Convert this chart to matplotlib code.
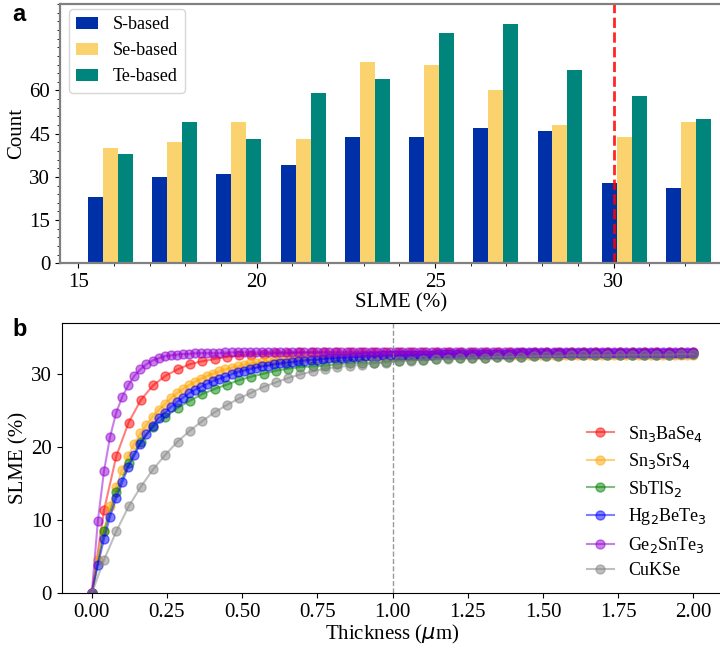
import numpy as np
import matplotlib
matplotlib.use('Agg')
import matplotlib.pyplot as plt
from matplotlib.ticker import MultipleLocator

plt.rcParams['font.family'] = ['Liberation Serif', 'DejaVu Serif']
plt.rcParams['font.size'] = 15
plt.rcParams['mathtext.fontset'] = 'dejavusans'

# --- panel a : histogramme SLME ---
bin_edges = [15.0, 16.8, 18.6, 20.4, 22.2, 24.0, 25.8, 27.6, 29.4, 31.2, 33.0]
s_counts = [23, 30, 31, 34, 44, 44, 47, 46, 28, 26]
se_counts = [40, 42, 49, 43, 70, 69, 60, 48, 44, 49]
te_counts = [38, 49, 43, 59, 64, 80, 83, 67, 58, 50]
group_labels = ['S-based', 'Se-based', 'Te-based']
group_colors = ['#0030A8', '#FAD26E', '#00857C']

# --- panel b : SLME vs epaisseur ---
t_fine = np.linspace(0, 2, 100)
t_coarse = np.linspace(0, 2, 50)

sn3base4 = [0.0, 11.4, 18.8, 23.4, 26.5, 28.5, 29.8, 30.7, 31.4, 31.8,
            32.1, 32.4, 32.6, 32.7, 32.8, 32.9, 32.9, 33.0, 33.0, 33.0,
            33.0, 33.0, 33.0, 33.0, 33.0, 33.0, 33.0, 33.0, 33.0, 33.0,
            33.0, 33.0, 33.0, 33.0, 33.0, 33.0, 33.0, 33.0, 33.0, 33.0,
            33.0, 33.0, 33.0, 33.0, 33.0, 33.0, 33.0, 33.0, 33.0, 33.0]

sn3srs4 = [0.0, 4.5, 8.6, 12.0, 14.6, 16.9, 18.8, 20.5, 21.9, 23.1,
           24.2, 25.1, 25.9, 26.7, 27.4, 28.0, 28.5, 29.0, 29.4, 29.8,
           30.1, 30.4, 30.7, 30.9, 31.1, 31.3, 31.5, 31.6, 31.7, 31.8,
           31.9, 32.0, 32.0, 32.1, 32.2, 32.2, 32.3, 32.3, 32.4, 32.4,
           32.4, 32.5, 32.5, 32.5, 32.5, 32.5, 32.5, 32.5, 32.5, 32.5,
           32.5, 32.5, 32.5, 32.5, 32.5, 32.5, 32.6, 32.6, 32.6, 32.6,
           32.6, 32.6, 32.6, 32.6, 32.6, 32.6, 32.6, 32.6, 32.6, 32.6,
           32.6, 32.6, 32.6, 32.7, 32.7, 32.7, 32.7, 32.7, 32.7, 32.7,
           32.7, 32.7, 32.7, 32.7, 32.7, 32.7, 32.7, 32.7, 32.7, 32.7,
           32.7, 32.7, 32.7, 32.7, 32.7, 32.7, 32.7, 32.7, 32.7, 32.7]

sbtls2 = [0.0, 8.5, 13.9, 17.8, 20.8, 22.8, 24.2, 25.4, 26.4, 27.3,
          28.0, 28.6, 29.2, 29.7, 30.1, 30.5, 30.8, 31.0, 31.1, 31.2,
          31.4, 31.5, 31.6, 31.6, 31.7, 31.9, 32.0, 32.0, 32.1, 32.2,
          32.2, 32.3, 32.3, 32.4, 32.4, 32.4, 32.5, 32.5, 32.5, 32.6,
          32.6, 32.6, 32.6, 32.7, 32.7, 32.7, 32.7, 32.7, 32.8, 32.8]

hg2bete3 = [0.0, 3.9, 7.4, 10.5, 13.0, 15.2, 17.3, 18.9, 20.5, 21.8,
            22.9, 24.0, 24.7, 25.5, 26.2, 26.8, 27.4, 27.9, 28.3, 28.7,
            29.1, 29.4, 29.7, 30.0, 30.3, 30.5, 30.7, 30.9, 31.1, 31.2,
            31.4, 31.5, 31.6, 31.7, 31.8, 31.9, 32.0, 32.0, 32.1, 32.2,
            32.2, 32.3, 32.3, 32.4, 32.4, 32.5, 32.5, 32.5, 32.6, 32.6,
            32.6, 32.6, 32.7, 32.7, 32.7, 32.7, 32.7, 32.8, 32.8, 32.8,
            32.8, 32.8, 32.8, 32.8, 32.8, 32.8, 32.8, 32.8, 32.8, 32.8,
            32.9, 32.9, 32.9, 32.9, 32.9, 32.9, 32.9, 32.9, 32.9, 32.9,
            32.9, 32.9, 32.9, 32.9, 32.9, 32.9, 32.9, 32.9, 32.9, 32.9,
            32.9, 32.9, 32.9, 32.9, 32.9, 32.9, 32.9, 32.9, 32.9, 32.9]

ge2snte3 = [0.0, 9.9, 16.7, 21.4, 24.7, 26.9, 28.5, 29.8, 30.7, 31.4,
            31.9, 32.2, 32.5, 32.6, 32.7, 32.8, 32.8, 32.9, 32.9, 32.9,
            32.9, 32.9, 33.0, 33.0, 33.0, 33.0, 33.0, 33.0, 33.0, 33.0,
            33.0, 33.0, 33.0, 33.0, 33.0, 33.0, 33.0, 33.0, 33.0, 33.0,
            33.0, 33.0, 33.0, 33.0, 33.0, 33.0, 33.0, 33.0, 33.0, 33.0,
            33.0, 33.0, 33.0, 33.0, 33.0, 33.0, 33.0, 33.0, 33.0, 33.0,
            33.0, 33.0, 33.0, 33.0, 33.0, 33.0, 33.0, 33.0, 33.0, 33.0,
            33.0, 33.0, 33.0, 33.0, 33.0, 33.0, 33.0, 33.0, 33.0, 33.0,
            33.0, 33.0, 33.0, 33.0, 33.0, 33.0, 33.0, 33.0, 33.0, 33.0,
            33.0, 33.0, 33.0, 33.0, 33.0, 33.0, 33.0, 33.0, 33.0, 33.0]

cukse = [0.0, 4.6, 8.5, 11.9, 14.6, 17.0, 19.0, 20.8, 22.3, 23.6,
         24.8, 25.8, 26.7, 27.5, 28.3, 28.9, 29.5, 30.0, 30.4, 30.8,
         31.0, 31.2, 31.3, 31.5, 31.6, 31.8, 31.9, 32.0, 32.1, 32.1,
         32.2, 32.3, 32.3, 32.4, 32.4, 32.4, 32.5, 32.5, 32.5, 32.6,
         32.6, 32.6, 32.6, 32.7, 32.7, 32.7, 32.7, 32.7, 32.8, 32.8]

curves = [
    ('Sn$_3$BaSe$_4$', t_coarse, sn3base4, 'red'),
    ('Sn$_3$SrS$_4$', t_fine, sn3srs4, 'orange'),
    ('SbTlS$_2$', t_coarse, sbtls2, 'green'),
    ('Hg$_2$BeTe$_3$', t_fine, hg2bete3, 'blue'),
    ('Ge$_2$SnTe$_3$', t_fine, ge2snte3, 'darkviolet'),
    ('CuKSe', t_coarse, cukse, 'gray'),
]

fig = plt.figure(figsize=(7.2, 6.5), dpi=100)

# panel a
ax1 = fig.add_axes([60 / 720, (650 - 263.3) / 650, (742 - 60) / 720, 259.3 / 650])
edges = np.array(bin_edges)
centers = (edges[:-1] + edges[1:]) / 2
w = 0.42
for k, (counts, lab, col) in enumerate(zip([s_counts, se_counts, te_counts], group_labels, group_colors)):
    ax1.bar(centers + (k - 1) * w, counts, w, color=col, label=lab)
ax1.axvline(30, color='red', linestyle='--', linewidth=2, alpha=0.85)
ax1.set_xlim(14.49, 33.6)
ax1.set_ylim(0, 90)
ax1.set_yticks([0, 15, 30, 45, 60])
ax1.yaxis.set_minor_locator(MultipleLocator(3))
ax1.set_xticks([15, 20, 25, 30])
ax1.xaxis.set_minor_locator(MultipleLocator(1))
ax1.set_xlabel('SLME (%)', labelpad=1)
ax1.set_ylabel('Count', labelpad=2)
for side in ['top', 'bottom', 'left']:
    ax1.spines[side].set_color('#808080')
    ax1.spines[side].set_linewidth(1.6)
ax1.spines['right'].set_visible(False)
ax1.legend(loc='upper left', bbox_to_anchor=(0.0, 1.015), fontsize=13, handlelength=1.2,
           labelspacing=0.5)
fig.text(12 / 720, 1 - 3 / 650, 'a', fontsize=17, fontweight='bold', family='Liberation Sans', va='top')

# panel b
ax2 = fig.add_axes([61.7 / 720, 56.7 / 650, (723.4 - 61.7) / 720, 270 / 650])
for lab, t, y, col in curves:
    ax2.plot(t, y, marker='o', markersize=6.5, linewidth=1.5, color=col, alpha=0.5, label=lab)
ax2.axvline(1.0, color='gray', linestyle='--', linewidth=1, alpha=0.8)
ax2.set_xlim(-0.1, 2.1)
ax2.set_ylim(0, 37)
ax2.set_xticks(np.arange(0, 2.01, 0.25))
ax2.set_yticks([0, 10, 20, 30])
ax2.set_xlabel('Thickness ($\\mu$m)', labelpad=1)
ax2.set_ylabel('SLME (%)', labelpad=2)
ax2.legend(loc='center right', bbox_to_anchor=(1.0, 0.34), frameon=False, fontsize=13,
           handlelength=1.5, labelspacing=0.42)
fig.text(12 / 720, 1 - 318 / 650, 'b', fontsize=17, fontweight='bold', family='Liberation Sans', va='top')

fig.savefig('out.png', dpi=100)
